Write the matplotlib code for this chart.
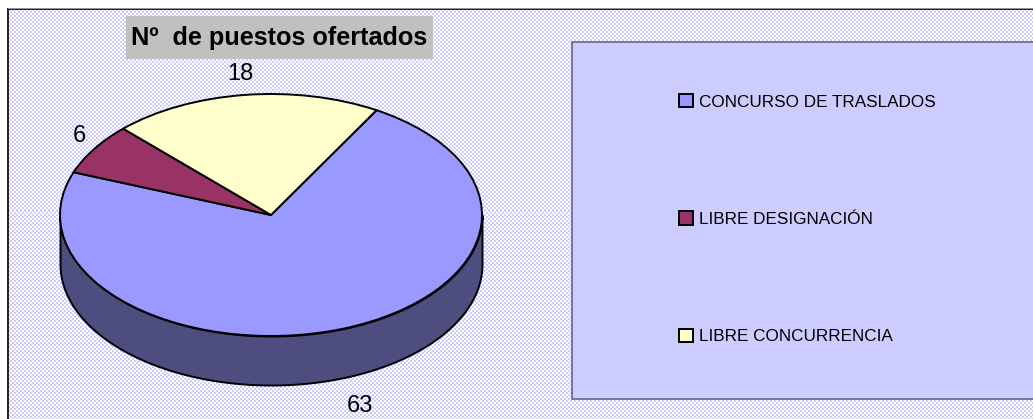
import numpy as np
import matplotlib
matplotlib.use("Agg")
import matplotlib.pyplot as plt
from matplotlib.patches import Rectangle

W, H = 1033, 419

categories = ["CONCURSO DE TRASLADOS", "LIBRE DESIGNACIÓN", "LIBRE CONCURRENCIA"]
puestos = [63, 6, 18]
colores = ["#9999FF", "#993366", "#FFFFCC"]
titulo = "Nº  de puestos ofertados"

plt.rcParams["font.family"] = ["Liberation Sans", "DejaVu Sans"]


def px_x(x):
    return x / W


def px_y(y):
    return 1 - y / H


def main():
    fig = plt.figure(figsize=(W / 100, H / 100), dpi=100, facecolor="white")

    # fondo de cuadritos (tramado de Excel)
    bg = fig.add_axes([0, 0, 1, 1], zorder=0)
    yy, xx = np.mgrid[0:H, 0:W]
    chk = ((xx // 2 + yy // 2) % 2).astype(float)
    img = np.ones((H, W, 3))
    col = np.array([0xCC, 0xCC, 0xFF]) / 255
    img[chk == 1] = col
    img[:, :7] = 1
    img[:9, :] = 1
    bg.imshow(img, interpolation="nearest", aspect="auto", extent=(0, W, H, 0))
    bg.plot([7.5, 7.5, W], [H, 9, 9], color="#111111", lw=1.3, solid_joinstyle="miter")
    bg.plot([8, W], [8, 8], color="#999999", lw=0.7)
    bg.set_xlim(0, W)
    bg.set_ylim(H, 0)
    bg.axis("off")

    # caja de la leyenda
    bg.add_patch(Rectangle((571.5, 42), W, 356.5, facecolor="#CCCCFF",
                           edgecolor="#666680", lw=1.2))

    # caja del titulo
    bg.add_patch(Rectangle((126, 16), 307, 43, facecolor="#C0C0C0", edgecolor="none"))
    fig.text(px_x(279.5), px_y(38.5), titulo, fontsize=18.2, fontweight="bold",
             ha="center", va="center", color="black", zorder=5)

    # tarta: elipse con centro (271, 215), semiejes 211 x 121
    cx, cy, a, b = 271, 215, 211, 121
    depth = 49 / b
    ax = fig.add_axes([px_x(cx - a), px_y(cy + b), 2 * a / W, 2 * b / H], zorder=2)
    ax.patch.set_alpha(0)

    t = np.linspace(np.pi, 2 * np.pi, 200)
    ax.fill_between(np.cos(t), np.sin(t) - depth, np.sin(t), facecolor="#4D4D80",
                    edgecolor="black", lw=1.4, clip_on=False, zorder=1)
    wedges, _ = ax.pie(puestos, colors=colores, startangle=60, counterclock=False,
                       wedgeprops=dict(edgecolor="black", lw=1.4, clip_on=False, zorder=2))
    ax.set_aspect("auto")
    ax.set_xlim(-1, 1)
    ax.set_ylim(-1, 1)
    ax.axis("off")

    # etiquetas de valores
    for val, (x, y) in zip(puestos, [(360, 405.5), (79, 135.5), (240, 73.5)]):
        fig.text(px_x(x), px_y(y), str(val), fontsize=17, ha="center", va="center",
                 color="black", zorder=5)

    # leyenda
    fig.legend(wedges, categories, loc="upper left", bbox_to_anchor=(px_x(664), px_y(79)),
               frameon=False, fontsize=12.3, handlelength=0.8, handleheight=0.8,
               handletextpad=0.35, labelspacing=5.95, borderpad=0.4, labelcolor="black")

    fig.savefig("out.png", dpi=100)


if __name__ == "__main__":
    main()
